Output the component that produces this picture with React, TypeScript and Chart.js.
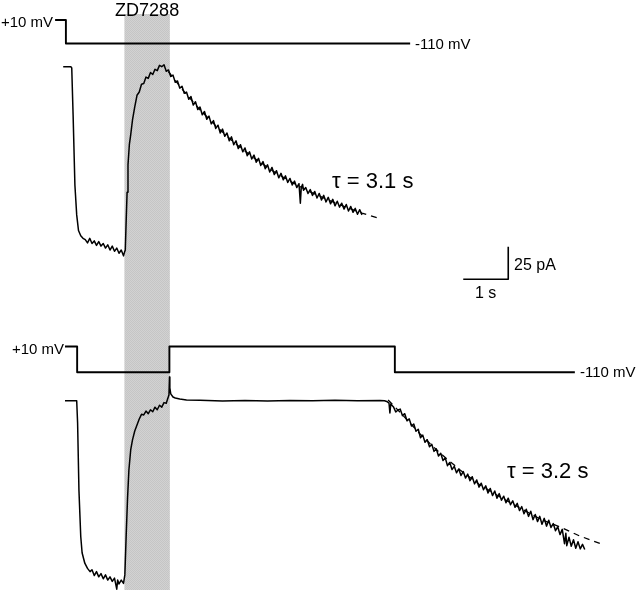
import React, { useEffect, useRef } from "react";
import { Chart, registerables } from "chart.js";

Chart.register(...registerables);

// ---------- data (time in s, current in pA, command voltage in mV) ----------
const drugWindow = [1.32, 2.33]; // ZD7288 application (s)
const drugLabel = "ZD7288";

const topCommand: number[][] = [[-0.22, 10], [0.02, 10], [0.02, -110], [7.67, -110]];
const bottomCommand: number[][] = [
  [0, 10], [0.27, 10], [0.27, -110], [2.32, -110], [2.32, 10], [7.33, 10], [7.33, -110], [11.33, -110],
];

const topCurrent: number[][] = [
  [-0.04, 0], [0.13, 0], [0.15, -1], [0.18, -37], [0.22, -91], [0.26, -114], [0.30, -126], [0.35, -130], [0.40, -132],
  [0.45, -133], [0.50, -135.5], [0.55, -132], [0.60, -136], [0.65, -134], [0.70, -137.5], [0.75, -134.5], [0.80, -138],
  [0.85, -136], [0.90, -139.5], [0.95, -137], [1.00, -141], [1.05, -138], [1.10, -142], [1.15, -139.5], [1.20, -143.5],
  [1.25, -141], [1.30, -145.5], [1.32, -143],
  [1.34, -141], [1.36, -118], [1.38, -96.5], [1.40, -75.5], [1.43, -60], [1.46, -52.5], [1.50, -41], [1.55, -31],
  [1.60, -22], [1.65, -19.5], [1.70, -13.5], [1.75, -13], [1.80, -8], [1.85, -9], [1.90, -4.5], [1.95, -6], [2.00, -2],
  [2.05, -3], [2.10, 1], [2.15, 0], [2.20, 1.5],
  [2.25, -3.5], [2.30, -2.5], [2.35, -7.5], [2.40, -6.5], [2.45, -12], [2.50, -11], [2.55, -16.5], [2.60, -15],
  [2.65, -20.5], [2.70, -19.5], [2.75, -25], [2.80, -23], [2.85, -29.5], [2.90, -27], [2.95, -33], [3.00, -31],
  [3.05, -37], [3.10, -34.5], [3.15, -40.5], [3.20, -38], [3.25, -44], [3.30, -41.5], [3.35, -47.5], [3.40, -45],
  [3.45, -51], [3.50, -48], [3.55, -53.5], [3.60, -51], [3.65, -57], [3.70, -54], [3.75, -60], [3.80, -57],
  [3.85, -63], [3.90, -60], [3.95, -65.5], [4.00, -62.5], [4.05, -68.5], [4.10, -65.5], [4.15, -71], [4.20, -68],
  [4.25, -73.5], [4.30, -70.5], [4.35, -76], [4.40, -73], [4.45, -78.5], [4.50, -75.5], [4.55, -81], [4.60, -77.5],
  [4.65, -83], [4.70, -80], [4.75, -85.5], [4.80, -82], [4.85, -87], [4.90, -84], [4.95, -89], [5.00, -86],
  [5.05, -91], [5.10, -88], [5.15, -93], [5.20, -90], [5.23, -105], [5.25, -93], [5.28, -90.5], [5.30, -95],
  [5.35, -93], [5.40, -97.5], [5.45, -94.5], [5.50, -99], [5.55, -96], [5.60, -101], [5.65, -97.5], [5.70, -102.5],
  [5.75, -99], [5.80, -104], [5.85, -100.5], [5.90, -105.5], [5.95, -102], [6.00, -107], [6.05, -103.5], [6.10, -108],
  [6.15, -105], [6.20, -109.5], [6.25, -106], [6.30, -111], [6.35, -107.5], [6.40, -112], [6.45, -109], [6.50, -113.5],
  [6.55, -110], [6.60, -114],
];

const topFit: number[][] = [
  [2.3, -3.9], [2.6, -17.2], [3.0, -33.2], [3.4, -47.2], [3.8, -59.5], [4.2, -70.2], [4.6, -79.8], [5.0, -88.1],
  [5.4, -95.5], [5.8, -101.8], [6.2, -107.5], [6.6, -112.6], [7.0, -116.9],
];

const bottomCurrent: number[][] = [
  [0, 0], [0.26, 0], [0.28, -17], [0.31, -69], [0.35, -104.5], [0.38, -117], [0.44, -125], [0.50, -129], [0.556, -131.5],
  [0.60, -130], [0.65, -134.5], [0.70, -131.5], [0.75, -135.5], [0.80, -133], [0.85, -137], [0.90, -134], [0.95, -138],
  [1.00, -135.5], [1.05, -139], [1.10, -136.5], [1.15, -145], [1.17, -138], [1.20, -141], [1.25, -138], [1.30, -140.5],
  [1.33, -134], [1.36, -103.3], [1.39, -75], [1.42, -53.3], [1.46, -37.9], [1.50, -30.2], [1.55, -23.3], [1.60, -18.7],
  [1.65, -14.1], [1.70, -10.5], [1.75, -11], [1.80, -8], [1.85, -10], [1.90, -7], [1.95, -8.5], [2.00, -5], [2.05, -7],
  [2.10, -3.5], [2.15, -5], [2.20, -1.5], [2.25, -2], [2.28, 1.3], [2.31, 4.4], [2.322, 18.2], [2.33, 9.8], [2.35, 5.2],
  [2.40, 2.8], [2.45, 2.1], [2.55, 1.3], [2.70, 0.5], [3.0, 0.3], [3.5, -0.2], [4.0, 0.2], [4.5, -0.3], [5.0, 0.2],
  [5.5, 0], [6.0, 0.3], [6.5, -0.1], [7.0, 0.2], [7.1, 0],
  [7.15, -0.6], [7.20, -1.8], [7.22, -9.5], [7.24, -2.5], [7.30, -4.8], [7.35, -8.7], [7.40, -7.2],
  [7.45, -6.5], [7.50, -11.5], [7.55, -10], [7.60, -15.5], [7.65, -14], [7.70, -19.5], [7.75, -18], [7.80, -23.5],
  [7.85, -22], [7.90, -28.5], [7.95, -26.5], [8.00, -32], [8.05, -30], [8.10, -35.5], [8.15, -33.5], [8.20, -39],
  [8.25, -37], [8.30, -42.5], [8.35, -40.5], [8.40, -46], [8.45, -44], [8.50, -50], [8.55, -47.5], [8.60, -53],
  [8.65, -50.5], [8.70, -55.5], [8.75, -52.5], [8.80, -57.5], [8.85, -54.5], [8.90, -59.5], [8.95, -56.5], [9.00, -61.5],
  [9.05, -58.5], [9.10, -64], [9.15, -61], [9.20, -66.5], [9.25, -63.5], [9.30, -68.5], [9.35, -65.5], [9.40, -71],
  [9.45, -67.5], [9.50, -73], [9.55, -69.5], [9.60, -75], [9.65, -71.5], [9.70, -76.5], [9.75, -73.5], [9.80, -78.5],
  [9.85, -75], [9.90, -80], [9.95, -77], [10.00, -82], [10.05, -79], [10.10, -84.5], [10.15, -81.5], [10.20, -87],
  [10.25, -83.5], [10.30, -89], [10.35, -85], [10.40, -91.5], [10.45, -87.5], [10.50, -93], [10.55, -89], [10.60, -95],
  [10.65, -90.5], [10.70, -96.5], [10.75, -92], [10.80, -97.5], [10.85, -94.5], [10.90, -100], [10.95, -97],
  [11.00, -103], [11.05, -99], [11.10, -110], [11.13, -102], [11.15, -111.5], [11.20, -105], [11.25, -112],
  [11.30, -107], [11.35, -113.5], [11.40, -108.5], [11.45, -114], [11.50, -110.5], [11.55, -114.5],
];

const bottomFit: number[][] = [
  [7.18, 0.5], [7.44, -8.7], [7.89, -25.6], [8.33, -40.2], [8.78, -53.3], [9.22, -64.8], [9.67, -74.1],
  [10.11, -82.5], [10.56, -91], [11.0, -97.2], [11.44, -104.1], [11.98, -111],
];

// scale bar: 1 s by 25 pA, corner at (t, pA) on the top current axis
const scaleBarCorner = [9.85, -163.5];
const scaleBarTime = 1; // s
const scaleBarCurrent = 25; // pA
const scaleBarLabels = ["25 pA", "1 s"];

const commandLabels = ["+10 mV", "-110 mV"];
const tauLabels = ["\u03c4 = 3.1 s", "\u03c4 = 3.2 s"];

const toXY = (arr: number[][]) => arr.map(([x, y]) => ({ x, y }));

const FONT = '"Liberation Sans", Arial, Helvetica, sans-serif';

export default function App() {
  const ref = useRef<HTMLCanvasElement | null>(null);

  useEffect(() => {
    document.body.style.margin = "0";
    const canvas = ref.current;
    if (!canvas) return;

    // stippled grey for the drug bar
    const pc = document.createElement("canvas");
    pc.width = 2;
    pc.height = 2;
    const pctx = pc.getContext("2d")!;
    pctx.fillStyle = "#c5c5c5";
    pctx.fillRect(0, 0, 2, 2);
    pctx.fillStyle = "#d2d2d2";
    pctx.fillRect(1, 0, 1, 1);
    pctx.fillRect(0, 1, 1, 1);

    const annotate = {
      id: "annotate",
      beforeDatasetsDraw(chart: any) {
        const ctx = chart.ctx;
        const xs = chart.scales.x;
        const x0 = xs.getPixelForValue(drugWindow[0]);
        const x1 = xs.getPixelForValue(drugWindow[1]);
        ctx.save();
        const pat = ctx.createPattern(pc, "repeat");
        ctx.fillStyle = pat || "#cbcbcb";
        ctx.fillRect(x0, 14, x1 - x0, 576);
        ctx.restore();
      },
      afterDatasetsDraw(chart: any) {
        const ctx = chart.ctx;
        const xs = chart.scales.x;
        ctx.save();
        ctx.fillStyle = "#000";
        ctx.textBaseline = "alphabetic";
        ctx.textAlign = "center";
        ctx.font = `18px ${FONT}`;
        const xm = (xs.getPixelForValue(drugWindow[0]) + xs.getPixelForValue(drugWindow[1])) / 2;
        ctx.fillText(drugLabel, xm, 16);

        ctx.textAlign = "left";
        ctx.font = `15px ${FONT}`;
        ctx.fillText(commandLabels[0], 1, 27);
        ctx.fillText(commandLabels[1], 415, 49);
        ctx.fillText(commandLabels[0], 12, 354);
        ctx.fillText(commandLabels[1], 580, 377);

        ctx.font = `16px ${FONT}`;
        ctx.fillText(scaleBarLabels[0], 514, 270);
        ctx.fillText(scaleBarLabels[1], 475, 298);

        ctx.font = `22px ${FONT}`;
        ctx.fillText(tauLabels[0], 332, 188);
        ctx.fillText(tauLabels[1], 507, 478);
        ctx.restore();
      },
    };

    const trace = (data: number[][], yAxisID: string, width = 1.2) => ({
      data: toXY(data),
      yAxisID,
      borderColor: "#000",
      borderWidth: width,
      pointRadius: 0,
      tension: 0,
      fill: false,
      borderJoinStyle: "round" as const,
    });

    const fit = (data: number[][], yAxisID: string) => ({
      ...trace(data, yAxisID, 1.3),
      borderDash: [6, 5],
    });

    const bar = [
      [scaleBarCorner[0] - scaleBarTime, scaleBarCorner[1]],
      [scaleBarCorner[0], scaleBarCorner[1]],
      [scaleBarCorner[0], scaleBarCorner[1] + scaleBarCurrent],
    ];

    const chart = new Chart(canvas, {
      type: "line",
      data: {
        datasets: [
          trace(topCurrent, "yTopI", 1.5),
          trace(bottomCurrent, "yBotI", 1.5),
          fit(topFit, "yTopI"),
          fit(bottomFit, "yBotI"),
          trace(topCommand, "yTopV", 1.9),
          trace(bottomCommand, "yBotV", 1.9),
          trace(bar, "yTopI", 1.6),
        ] as any,
      },
      options: {
        animation: false,
        responsive: false,
        maintainAspectRatio: false,
        devicePixelRatio: 1,
        layout: { padding: 0 },
        events: [],
        plugins: { legend: { display: false }, tooltip: { enabled: false } },
        scales: {
          x: { type: "linear", min: -1.4444, max: 12.7778, display: false },
          yTopI: { type: "linear", min: -405.6, max: 51.3, display: false },
          yBotI: { type: "linear", min: -148.7, max: 308.2, display: false },
          yTopV: { type: "linear", min: -2921.6, max: 112.1, display: false },
          yBotV: { type: "linear", min: -1141.2, max: 1621.6, display: false },
        },
      },
      plugins: [annotate],
    });

    return () => chart.destroy();
  }, []);

  return (
    <div style={{ width: 640, height: 594, background: "#fff" }}>
      <canvas ref={ref} width={640} height={594} style={{ display: "block" }} />
    </div>
  );
}
